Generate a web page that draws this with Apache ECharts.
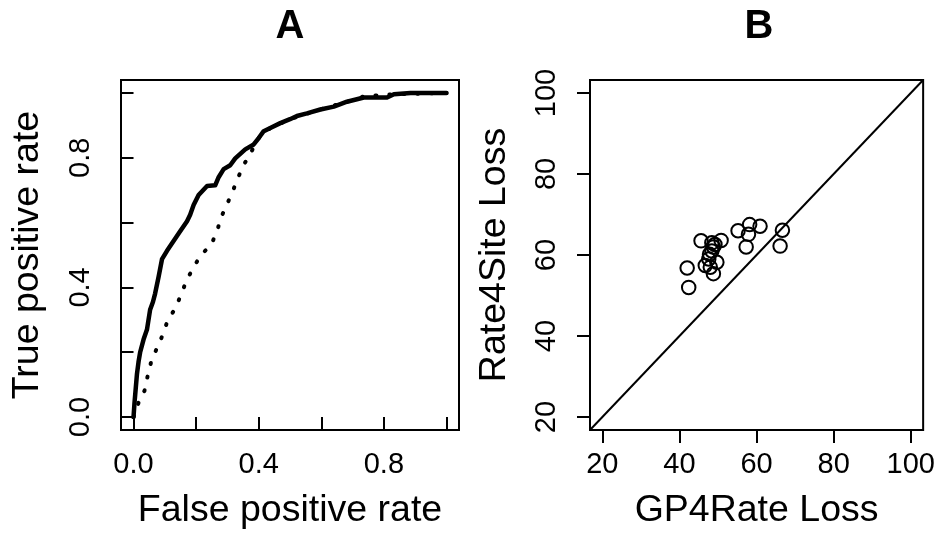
<!DOCTYPE html>
<html>
<head>
<meta charset="utf-8">
<script src="https://cdn.jsdelivr.net/npm/echarts@6/dist/echarts.min.js"></script>
<style>
	html, body {margin: 0; padding: 0; background: #fff;}
	#main {width: 938px; height: 535px;}
</style>
</head>
<body>
<div id="main"></div>
<script type="text/javascript">
// panel A: ROC curves
var fpr1 = [0,0.003,0.011,0.016,0.021,0.032,0.043,0.053,0.062,0.069,0.080,0.091,0.107,0.128,0.149,0.171,0.181,0.192,0.208,0.235,0.261,0.272,0.288,0.309,0.325,0.357,0.384,0.400,0.416,0.437,0.469,0.500,0.522,0.554,0.597,0.640,0.682,0.736,0.810,0.832,0.885,1.0];
var tpr1 = [0,0.042,0.133,0.170,0.199,0.239,0.270,0.331,0.355,0.381,0.432,0.487,0.513,0.543,0.573,0.604,0.624,0.654,0.685,0.713,0.715,0.740,0.765,0.777,0.798,0.826,0.841,0.861,0.882,0.892,0.907,0.919,0.929,0.937,0.949,0.958,0.973,0.986,0.986,0.996,1.0,1.0];
var fpr2 = [0,0.016,0.035,0.045,0.057,0.075,0.094,0.109,0.134,0.152,0.170,0.192,0.215,0.248,0.267,0.281,0.299,0.318,0.335,0.354,0.376,0.400,0.437,0.500,0.597,0.682,0.741,0.789,0.832,1.0];
var tpr2 = [0,0.044,0.081,0.126,0.173,0.213,0.255,0.298,0.336,0.378,0.423,0.462,0.500,0.531,0.574,0.619,0.657,0.699,0.741,0.781,0.818,0.861,0.892,0.919,0.949,0.973,0.991,0.993,0.996,1.0];
var rateTicks = [0, 0.2, 0.4, 0.6, 0.8, 1.0];
var rateLabels = [0, 0.4, 0.8];

// panel B: losses
var gp4rate = [45.6,50.8,48.4,48.8,48.4,47.6,49.7,46.7,48.0,48.8,55.2,58.2,60.9,57.9,57.3,66.7,66.1,42.0,42.4,49.2,47.8];
var rate4site = [63.5,63.6,63.0,62.0,61.0,59.0,58.2,57.4,57.0,55.4,66.0,67.5,67.1,65.1,62.0,66.1,62.2,56.8,52.0,62.6,60.2];
var lossTicks = [20, 40, 60, 80, 100];

var font = "'Liberation Sans', Arial, Helvetica, sans-serif";
var rateMin = -0.04, rateMax = 1.04;
var lossMin = 16.8, lossMax = 103.2;

function zip(a, b) {
	var out = [];
	for (var i = 0; i < a.length; i++) out.push([a[i], b[i]]);
	return out;
}

function axis(gridIndex, min, max, ticks, labels, fmt, name, gap, rotate, margin) {
	return {
		type: 'value',
		gridIndex: gridIndex,
		min: min,
		max: max,
		splitLine: {show: false},
		axisLine: {show: false},
		axisTick: {show: true, inside: false, length: 13, customValues: ticks, lineStyle: {color: '#000', width: 2}},
		axisLabel: {show: true, customValues: labels, formatter: fmt, rotate: rotate, margin: margin, color: '#000', fontSize: 29, fontFamily: font},
		name: name,
		nameLocation: 'middle',
		nameGap: gap,
		nameTextStyle: {color: '#000', fontSize: 37.5, fontFamily: font}
	};
}

var fmtRate = function (v) { return v.toFixed(1); };
var fmtLoss = function (v) { return String(Math.round(v)); };

var option = {
	animation: false,
	backgroundColor: '#fff',
	grid: [
		{left: 121, top: 80, width: 338, height: 356, show: true, borderColor: '#000', borderWidth: 2, backgroundColor: 'transparent'},
		{left: 590, top: 80, width: 338, height: 356, show: true, borderColor: '#000', borderWidth: 2, backgroundColor: 'transparent'}
	],
	xAxis: [
		axis(0, rateMin, rateMax, rateTicks, rateLabels, fmtRate, 'False positive rate', 62, 0, 20),
		axis(1, lossMin, lossMax, lossTicks, lossTicks, fmtLoss, 'GP4Rate Loss', 62, 0, 20)
	],
	yAxis: [
		axis(0, rateMin, rateMax, rateTicks, rateLabels, fmtRate, 'True positive rate', 74, 90, 26),
		axis(1, lossMin, lossMax, lossTicks, lossTicks, fmtLoss, 'Rate4Site Loss', 76, 90, 29)
	],
	graphic: [
		{type: 'text', x: 290, y: 27, style: {text: 'A', font: 'bold 40px ' + font, fill: '#000', align: 'center', verticalAlign: 'middle'}},
		{type: 'text', x: 759, y: 27, style: {text: 'B', font: 'bold 40px ' + font, fill: '#000', align: 'center', verticalAlign: 'middle'}}
	],
	series: [
		{
			type: 'line', xAxisIndex: 0, yAxisIndex: 0,
			data: zip(fpr2, tpr2), showSymbol: false, silent: true,
			lineStyle: {color: '#000', width: 4, type: [1, 13], cap: 'round'}
		},
		{
			type: 'line', xAxisIndex: 0, yAxisIndex: 0,
			data: zip(fpr1, tpr1), showSymbol: false, silent: true,
			lineStyle: {color: '#000', width: 4.5, join: 'round', cap: 'round'}
		},
		{
			type: 'line', xAxisIndex: 1, yAxisIndex: 1,
			data: [[lossMin, lossMin], [lossMax, lossMax]], showSymbol: false, silent: true,
			lineStyle: {color: '#000', width: 2}
		},
		{
			type: 'scatter', xAxisIndex: 1, yAxisIndex: 1,
			data: zip(gp4rate, rate4site), symbol: 'circle', symbolSize: 13.5, silent: true,
			itemStyle: {color: 'transparent', borderColor: '#000', borderWidth: 2, opacity: 1}
		}
	]
};

var myChart = echarts.init(document.getElementById('main'), null, {renderer: 'canvas'});
myChart.setOption(option);
</script>
</body>
</html>
